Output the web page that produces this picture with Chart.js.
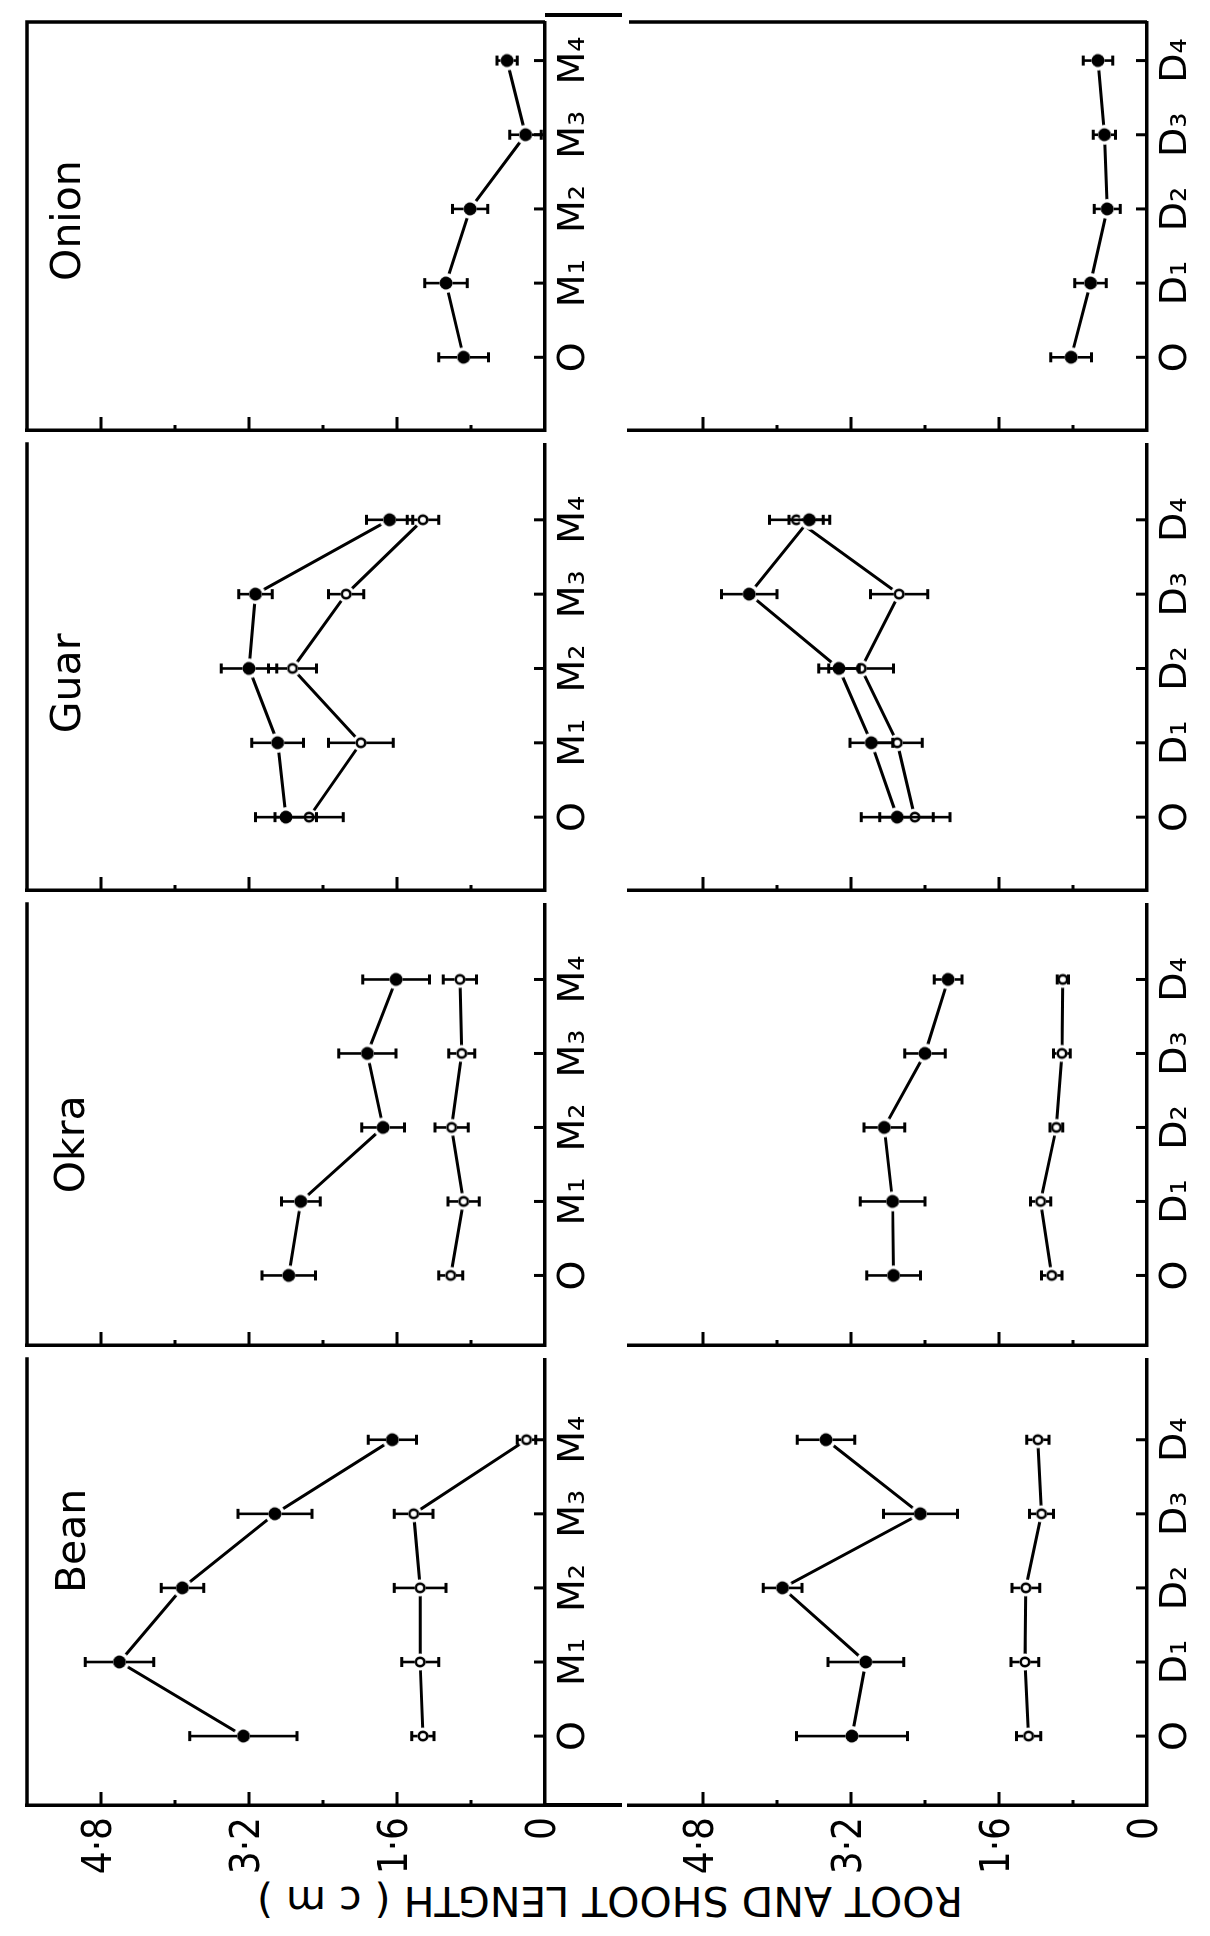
<!DOCTYPE html>
<html>
<head>
<meta charset="utf-8">
<title>Root and shoot length</title>
<script src="https://cdn.jsdelivr.net/npm/chart.js@4.4.1/dist/chart.umd.min.js"></script>
<style>
  html, body { margin: 0; padding: 0; background: #fff; }
  body { width: 1210px; height: 1936px; overflow: hidden; position: relative; }
  /* the figure is laid out landscape and turned a quarter turn, as in the print */
  #figure { position: absolute; left: 0; top: 0; width: 1936px; height: 1210px; background: #fff;
            transform-origin: 0 0; transform: translate(0, 1936px) rotate(-90deg); }
  .panel { position: absolute; }
  .rule { position: absolute; background: #000; }
  #ylabel { position: absolute; left: -414px; top: 585px; width: 900px; height: 50px; line-height: 50px;
            text-align: center; white-space: pre; color: #000;
            font: 41px "DejaVu Sans", sans-serif; transform: rotate(-90deg); }
</style>
</head>
<body>
<div id="figure">
  <div id="ylabel">ROOT AND SHOOT LENGTH ( c m )</div>
</div>
<script>
// category labels
const mLabels = ['O', 'M₁', 'M₂', 'M₃', 'M₄'];
const dLabels = ['O', 'D₁', 'D₂', 'D₃', 'D₄'];

// value axis ticks
const valueTicks = [0, 1.6, 3.2, 4.8];
const valueTickLabels = ['0', '1·6', '3·2', '4·8'];
const minorTicks = [0.8, 2.4, 4.0];

// ● series / ○ series, mean and error bar (cm)
const beanMSolid = [3.26, 4.60, 3.92, 2.92, 1.65];
const beanMSolidErr = [0.58, 0.37, 0.23, 0.40, 0.26];
const beanMOpen = [1.32, 1.35, 1.35, 1.42, 0.20];
const beanMOpenErr = [0.12, 0.20, 0.28, 0.21, 0.10];

const beanDSolid = [3.19, 3.04, 3.94, 2.45, 3.47];
const beanDSolidErr = [0.60, 0.41, 0.21, 0.40, 0.31];
const beanDOpen = [1.28, 1.32, 1.31, 1.14, 1.18];
const beanDOpenErr = [0.13, 0.15, 0.15, 0.13, 0.12];

const okraMSolid = [2.77, 2.64, 1.75, 1.92, 1.61];
const okraMSolidErr = [0.29, 0.21, 0.23, 0.31, 0.36];
const okraMOpen = [1.02, 0.88, 1.01, 0.90, 0.92];
const okraMOpenErr = [0.13, 0.17, 0.18, 0.14, 0.18];

const okraDSolid = [2.74, 2.75, 2.84, 2.40, 2.15];
const okraDSolidErr = [0.29, 0.35, 0.22, 0.22, 0.15];
const okraDOpen = [1.03, 1.15, 0.98, 0.92, 0.91];
const okraDOpenErr = [0.11, 0.11, 0.07, 0.09, 0.06];

const guarMSolid = [2.80, 2.89, 3.20, 3.13, 1.68];
const guarMSolidErr = [0.33, 0.28, 0.30, 0.18, 0.25];
const guarMOpen = [2.55, 1.99, 2.73, 2.15, 1.32];
const guarMOpenErr = [0.37, 0.35, 0.26, 0.19, 0.17];

const guarDSolid = [2.70, 2.98, 3.33, 4.30, 3.65];
const guarDSolidErr = [0.39, 0.23, 0.22, 0.30, 0.22];
const guarDOpen = [2.51, 2.70, 3.09, 2.68, 3.79];
const guarDOpenErr = [0.38, 0.27, 0.35, 0.31, 0.29];

const onionMSolid = [0.88, 1.07, 0.81, 0.21, 0.41];
const onionMSolidErr = [0.27, 0.23, 0.19, 0.17, 0.11];

const onionDSolid = [0.82, 0.61, 0.43, 0.46, 0.53];
const onionDSolidErr = [0.22, 0.17, 0.14, 0.12, 0.16];

// layout (landscape coordinates, before the turn)
const COLS = [
  { name: 'Bean',  left: 131,  right: 584,  xMin: -0.93, xMax: 5.09, titleAt: [1.93, 4.97] },
  { name: 'Okra',  left: 584,  right: 1039, xMin: -0.94, xMax: 5.02, titleAt: [1.11, 4.98] },
  { name: 'Guar',  left: 1039, right: 1499, xMin: -0.98, xMax: 5.02, titleAt: [1.13, 5.03] },
  { name: 'Onion', left: 1499, right: 1921, xMin: -0.98, xMax: 4.52, titleAt: [1.03, 5.03] }
];
const ROWS = { M: { top: 20, bottom: 545 }, D: { top: 622, bottom: 1147 } };
const Y_MAX = 5.6;
const LINE = 3.5;

function makeMarker(solid) {
  const c = document.createElement('canvas');
  c.width = c.height = 24;
  const g = c.getContext('2d');
  g.fillStyle = '#fff';
  g.beginPath(); g.arc(12, 12, solid ? 10 : 8.5, 0, Math.PI * 2); g.fill();
  if (solid) {
    g.fillStyle = '#000';
    g.beginPath(); g.arc(12, 12, 6.5, 0, Math.PI * 2); g.fill();
  } else {
    g.strokeStyle = '#000'; g.lineWidth = 2.6;
    g.beginPath(); g.arc(12, 12, 4.2, 0, Math.PI * 2); g.stroke();
  }
  return c;
}
const solidMarker = makeMarker(true);
const openMarker = makeMarker(false);

// error bars, inward ticks, frame edges and the crop name
const panelDecor = {
  id: 'panelDecor',
  afterDatasetsDraw(chart, args, o) {
    const { ctx, chartArea: a } = chart;
    const x = chart.scales.x, y = chart.scales.y;
    ctx.save();
    ctx.strokeStyle = '#000';
    ctx.fillStyle = '#000';
    ctx.lineCap = 'butt';

    chart.data.datasets.forEach(ds => {
      const core = ds.kind === 'solid' ? 6.5 : 5.4;
      ds.data.forEach((pt, i) => {
        const e = ds.errors[i];
        const px = x.getPixelForValue(pt.x);
        const cy = y.getPixelForValue(pt.y);
        const hi = y.getPixelForValue(pt.y + e);
        const lo = y.getPixelForValue(pt.y - e);
        ctx.lineWidth = 2.6;
        ctx.beginPath();
        if (cy - hi > core) { ctx.moveTo(px, hi); ctx.lineTo(px, cy - core); }
        if (lo - cy > core) { ctx.moveTo(px, cy + core); ctx.lineTo(px, lo); }
        ctx.stroke();
        ctx.lineWidth = 3;
        ctx.beginPath();
        ctx.moveTo(px - 5, hi); ctx.lineTo(px + 5, hi);
        ctx.moveTo(px - 5, lo); ctx.lineTo(px + 5, lo);
        ctx.stroke();
      });
    });

    ctx.lineWidth = 3;
    ctx.beginPath();
    valueTicks.filter(v => v > 0).forEach(v => {
      const py = y.getPixelForValue(v);
      ctx.moveTo(a.left, py); ctx.lineTo(a.left + 13, py);
    });
    minorTicks.forEach(v => {
      const py = y.getPixelForValue(v);
      ctx.moveTo(a.left, py); ctx.lineTo(a.left + 5, py);
    });
    x.ticks.forEach(t => {
      const px = x.getPixelForValue(t.value);
      ctx.moveTo(px, a.bottom); ctx.lineTo(px, a.bottom - 11);
    });
    ctx.stroke();

    ctx.lineWidth = LINE;
    ctx.beginPath();
    if (o.frameTop) { ctx.moveTo(a.left - LINE / 2, a.top); ctx.lineTo(a.right + LINE / 2, a.top); }
    if (o.frameRight) { ctx.moveTo(a.right, a.top); ctx.lineTo(a.right, a.bottom); }
    ctx.stroke();

    if (o.title) {
      ctx.font = '41px "DejaVu Sans", sans-serif';
      ctx.textAlign = 'left';
      ctx.textBaseline = 'alphabetic';
      ctx.fillText(o.title, x.getPixelForValue(o.titleAt[0]), y.getPixelForValue(o.titleAt[1]));
    }
    ctx.restore();
  }
};

function series(values, errors, kind) {
  return {
    data: values.map((v, i) => ({ x: i, y: v })),
    errors: errors,
    kind: kind,
    borderColor: '#000',
    borderWidth: 3,
    backgroundColor: '#000',
    pointStyle: kind === 'solid' ? solidMarker : openMarker,
    pointRadius: 10,
    pointHoverRadius: 10,
    fill: false,
    tension: 0
  };
}

const panels = [
  { col: 0, row: 'M', labels: mLabels, data: [series(beanMSolid, beanMSolidErr, 'solid'), series(beanMOpen, beanMOpenErr, 'open')] },
  { col: 1, row: 'M', labels: mLabels, data: [series(okraMSolid, okraMSolidErr, 'solid'), series(okraMOpen, okraMOpenErr, 'open')] },
  { col: 2, row: 'M', labels: mLabels, data: [series(guarMSolid, guarMSolidErr, 'solid'), series(guarMOpen, guarMOpenErr, 'open')] },
  { col: 3, row: 'M', labels: mLabels, data: [series(onionMSolid, onionMSolidErr, 'solid')] },
  { col: 0, row: 'D', labels: dLabels, data: [series(beanDSolid, beanDSolidErr, 'solid'), series(beanDOpen, beanDOpenErr, 'open')] },
  { col: 1, row: 'D', labels: dLabels, data: [series(okraDSolid, okraDSolidErr, 'solid'), series(okraDOpen, okraDOpenErr, 'open')] },
  { col: 2, row: 'D', labels: dLabels, data: [series(guarDSolid, guarDSolidErr, 'solid'), series(guarDOpen, guarDOpenErr, 'open')] },
  { col: 3, row: 'D', labels: dLabels, data: [series(onionDSolid, onionDSolidErr, 'solid')] }
];

const figure = document.getElementById('figure');

function addPanel(p) {
  const col = COLS[p.col], row = ROWS[p.row];
  const padL = p.col === 0 ? col.left : 6, padT = 6, padR = 6, padB = 60;
  const w = col.right - col.left + padL + padR;
  const h = row.bottom - row.top + padT + padB;

  const div = document.createElement('div');
  div.className = 'panel';
  div.style.left = (col.left - padL) + 'px';
  div.style.top = (row.top - padT) + 'px';
  const canvas = document.createElement('canvas');
  canvas.width = w; canvas.height = h;
  div.appendChild(canvas);
  figure.appendChild(div);

  new Chart(canvas, {
    type: 'line',
    data: { datasets: p.data },
    plugins: [panelDecor],
    options: {
      responsive: false,
      devicePixelRatio: 1,
      animation: false,
      events: [],
      layout: { padding: { top: padT, right: padR, left: 0, bottom: 0 } },
      plugins: {
        legend: { display: false },
        tooltip: { enabled: false },
        panelDecor: {
          frameTop: p.row === 'M',
          frameRight: p.col === 3,
          title: p.row === 'M' ? col.name : null,
          titleAt: col.titleAt
        }
      },
      scales: {
        x: {
          type: 'linear',
          min: col.xMin,
          max: col.xMax,
          afterBuildTicks: s => { s.ticks = p.labels.map((_, i) => ({ value: i })); },
          afterFit: s => { s.height = padB; s.paddingLeft = 0; s.paddingRight = 0; },
          grid: { display: false, drawTicks: false },
          border: { display: true, color: '#000', width: LINE },
          ticks: {
            autoSkip: false, maxRotation: 0, minRotation: 0, padding: 6, color: '#000',
            font: { family: 'DejaVu Sans', size: 38 },
            callback: v => p.labels[Math.round(v)] ?? ''
          }
        },
        y: {
          type: 'linear',
          min: 0,
          max: Y_MAX,
          afterBuildTicks: s => { s.ticks = valueTicks.map(v => ({ value: v })); },
          afterFit: s => { s.width = padL; s.paddingTop = 0; s.paddingBottom = 0; },
          grid: { display: false, drawTicks: false },
          border: { display: true, color: '#000', width: LINE },
          ticks: {
            display: p.col === 0, padding: 12, color: '#000',
            font: { family: '"Liberation Sans Narrow", "DejaVu Sans Condensed", "Liberation Sans"', size: 40 },
            callback: v => valueTickLabels[valueTicks.indexOf(v)]
          }
        }
      }
    }
  });
}

panels.forEach(addPanel);

// frame lines carried across the gap between the two rows
function addRule(left, top, width, height) {
  const r = document.createElement('div');
  r.className = 'rule';
  r.style.left = left + 'px'; r.style.top = top + 'px';
  r.style.width = width + 'px'; r.style.height = height + 'px';
  figure.appendChild(r);
}
addRule(COLS[0].left - LINE / 2, ROWS.M.bottom, LINE, ROWS.D.top - ROWS.M.bottom);
addRule(COLS[3].right - LINE / 2, ROWS.M.bottom, LINE, ROWS.D.top - ROWS.M.bottom);
</script>
</body>
</html>
